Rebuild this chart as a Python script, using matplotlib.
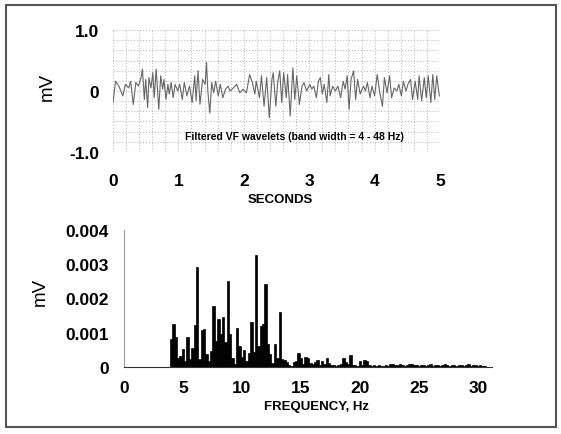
import numpy as np
import matplotlib.pyplot as plt
from matplotlib.patches import Rectangle

plt.rcParams['font.family'] = ['Liberation Sans', 'DejaVu Sans']

# --- top panel: filtered VF signal (peaks/troughs) ---
sig_t = [0.00, 0.04, 0.09, 0.15, 0.19, 0.24, 0.27, 0.31, 0.35, 0.39, 0.43, 0.45,
         0.48, 0.50, 0.53, 0.55, 0.58, 0.61, 0.63, 0.66, 0.70, 0.73, 0.76, 0.78,
         0.81, 0.84, 0.86, 0.89, 0.92, 0.95, 0.99, 1.02, 1.06, 1.09, 1.13, 1.17,
         1.21, 1.25, 1.27, 1.30, 1.33, 1.37, 1.41, 1.43, 1.45, 1.48, 1.51, 1.54,
         1.57, 1.61, 1.64, 1.68, 1.72, 1.76, 1.79, 1.84, 1.89, 1.94, 1.99, 2.04,
         2.09, 2.13, 2.17, 2.19, 2.24, 2.27, 2.31, 2.35, 2.39, 2.43, 2.45, 2.49,
         2.52, 2.55, 2.58, 2.61, 2.65, 2.67, 2.71, 2.75, 2.78, 2.81, 2.85, 2.89,
         2.92, 2.96, 3.01, 3.04, 3.07, 3.11, 3.14, 3.17, 3.20, 3.23, 3.27, 3.30,
         3.32, 3.36, 3.40, 3.44, 3.48, 3.52, 3.55, 3.58, 3.61, 3.64, 3.68, 3.71,
         3.74, 3.78, 3.83, 3.86, 3.89, 3.93, 3.96, 4.00, 4.04, 4.08, 4.12, 4.15,
         4.19, 4.23, 4.26, 4.30, 4.34, 4.37, 4.41, 4.44, 4.48, 4.51, 4.55, 4.58,
         4.62, 4.66, 4.68, 4.72, 4.76, 4.79, 4.82, 4.86, 4.89, 4.92, 4.95, 4.99]
sig_mv = [-0.19, 0.16, 0.08, -0.08, 0.11, 0.05, 0.16, -0.22, 0.14, 0.08, 0.22, 0.36,
          -0.14, 0.19, -0.27, 0.22, 0.05, 0.30, -0.11, 0.36, -0.30, 0.25, 0.03, 0.19,
          -0.14, 0.11, -0.05, 0.14, -0.11, 0.11, 0.00, 0.11, -0.14, 0.14, -0.08, 0.08,
          -0.19, 0.25, -0.16, 0.33, -0.22, 0.19, 0.11, 0.47, 0.00, -0.36, 0.14, -0.03,
          0.16, -0.08, 0.11, -0.11, 0.03, 0.08, 0.00, 0.05, 0.11, -0.03, 0.03, -0.03,
          0.27, 0.14, -0.05, 0.16, -0.11, 0.25, -0.25, 0.22, -0.44, 0.19, 0.30, -0.25,
          0.16, 0.33, -0.19, 0.30, -0.11, 0.27, -0.41, 0.38, -0.14, 0.25, -0.22, 0.08,
          0.14, 0.00, 0.11, 0.03, 0.08, -0.11, 0.16, 0.22, -0.05, 0.11, -0.19, 0.27,
          -0.08, 0.08, 0.00, 0.08, -0.11, 0.16, 0.03, 0.25, -0.30, 0.19, 0.33, -0.14,
          0.19, -0.05, 0.08, 0.00, 0.14, -0.11, 0.08, -0.08, 0.27, -0.03, -0.25, 0.22,
          -0.03, 0.25, -0.11, 0.05, 0.00, 0.11, -0.08, 0.16, 0.00, 0.11, 0.19, -0.14,
          0.16, -0.14, 0.25, -0.16, 0.22, -0.11, 0.25, -0.19, 0.27, -0.14, 0.25, -0.08]

# --- bottom panel: amplitude spectrum, 0.2 Hz bins starting at 4 Hz ---
freq_start = 4.0
freq_step = 0.2
amp_mv = [0.83, 1.25, 0.89, 0.27, 0.32, 0.54, 0.18, 0.88, 0.22, 0.55,
          1.22, 2.91, 0.22, 1.08, 1.12, 0.37, 0.18, 0.47, 1.77, 0.76,
          1.41, 0.95, 1.45, 0.73, 2.50, 0.96, 0.27, 0.10, 1.13, 0.61,
          0.30, 0.50, 0.18, 0.40, 1.32, 0.44, 3.28, 0.61, 1.20, 1.27,
          2.43, 0.68, 0.37, 0.13, 0.66, 0.27, 1.62, 0.22, 0.20, 0.16,
          0.05, 0.03, 0.15, 0.18, 0.42, 0.26, 0.10, 0.30, 0.27, 0.13,
          0.08, 0.15, 0.20, 0.06, 0.18, 0.10, 0.27, 0.13, 0.06, 0.05,
          0.03, 0.05, 0.10, 0.27, 0.15, 0.10, 0.34, 0.06, 0.05, 0.03,
          0.18, 0.06, 0.20, 0.18, 0.05, 0.03, 0.06, 0.03, 0.05, 0.02,
          0.03, 0.05, 0.03, 0.08, 0.10, 0.06, 0.05, 0.08, 0.05, 0.03,
          0.05, 0.08, 0.10, 0.06, 0.05, 0.03, 0.06, 0.05, 0.03, 0.05,
          0.08, 0.03, 0.05, 0.06, 0.03, 0.05, 0.08, 0.05, 0.03, 0.06,
          0.05, 0.03, 0.05, 0.06, 0.03, 0.05, 0.08, 0.04, 0.05, 0.06,
          0.03, 0.05, 0.04, 0.03]
amp = np.array(amp_mv) / 1000.0
freqs = freq_start + freq_step * np.arange(len(amp))

top_yticks = [-1.0, 0, 1.0]
top_yticklabels = ['-1.0', '0', '1.0']
bot_yticks = [0, 0.001, 0.002, 0.003, 0.004]
bot_yticklabels = ['0', '0.001', '0.002', '0.003', '0.004']

fig = plt.figure(figsize=(5.61, 4.35), dpi=100)

# outer frame
fig.patches.append(Rectangle((6 / 561, 1 - 428 / 435), 550 / 561, 422 / 435,
                             transform=fig.transFigure, fill=False,
                             edgecolor='#555555', linewidth=1.5))

# top panel
ax1 = fig.add_axes([0.2014, 0.6483, 0.5829, 0.2804])
ax1.plot(sig_t, sig_mv, color='#666666', linewidth=0.8)
ax1.set_xlim(0, 5)
ax1.set_ylim(-1, 1)
ax1.set_xticks(range(6))
ax1.set_xticks(np.arange(0, 5.01, 0.2), minor=True)
ax1.set_yticks(top_yticks)
ax1.set_yticklabels(top_yticklabels)
ax1.set_yticks(np.linspace(-1, 1, 13), minor=True)
ax1.grid(which='both', color='#bdbdbd', linestyle=':', linewidth=0.8)
ax1.set_axisbelow(True)
for s in ax1.spines.values():
    s.set_visible(False)
ax1.tick_params(which='both', length=0)
ax1.tick_params(axis='x', pad=15, labelsize=12.5)
ax1.tick_params(axis='y', pad=10, labelsize=12.5)
for lab in ax1.get_xticklabels() + ax1.get_yticklabels():
    lab.set_fontweight('bold')
ax1.text(2.77, -0.74, 'Filtered VF wavelets (band width = 4 - 48 Hz)',
         ha='center', va='center', fontsize=7.5, fontweight='bold')

# bottom panel
ax2 = fig.add_axes([0.2210, 0.154, 0.656, 0.315])
ax2.bar(freqs, amp, width=0.2, color='black', edgecolor='black', linewidth=0.5)
ax2.set_xlim(0, 31.2)
ax2.set_ylim(0, 0.004)
ax2.set_xticks([0, 5, 10, 15, 20, 25, 30])
ax2.set_yticks(bot_yticks)
ax2.set_yticklabels(bot_yticklabels)
ax2.spines['top'].set_visible(False)
ax2.spines['right'].set_visible(False)
ax2.spines['left'].set_color('#999999')
ax2.spines['bottom'].set_color('#333333')
ax2.tick_params(length=0, labelsize=12.5)
ax2.tick_params(axis='x', pad=9)
ax2.tick_params(axis='y', pad=11)
for lab in ax2.get_xticklabels() + ax2.get_yticklabels():
    lab.set_fontweight('bold')

# axis titles
fig.text(280 / 561, 1 - 200 / 435, 'SECONDS', ha='center', va='center',
         fontsize=9.5, fontweight='bold')
fig.text(317 / 561, 1 - 407 / 435, 'FREQUENCY, Hz', ha='center', va='center',
         fontsize=9.5, fontweight='bold')
fig.text(47 / 561, 1 - 87 / 435, 'mV', ha='center', va='center', rotation=90,
         fontsize=13.5)
fig.text(40 / 561, 1 - 292 / 435, 'mV', ha='center', va='center', rotation=90,
         fontsize=13.5)

fig.savefig('out.png', dpi=100)
